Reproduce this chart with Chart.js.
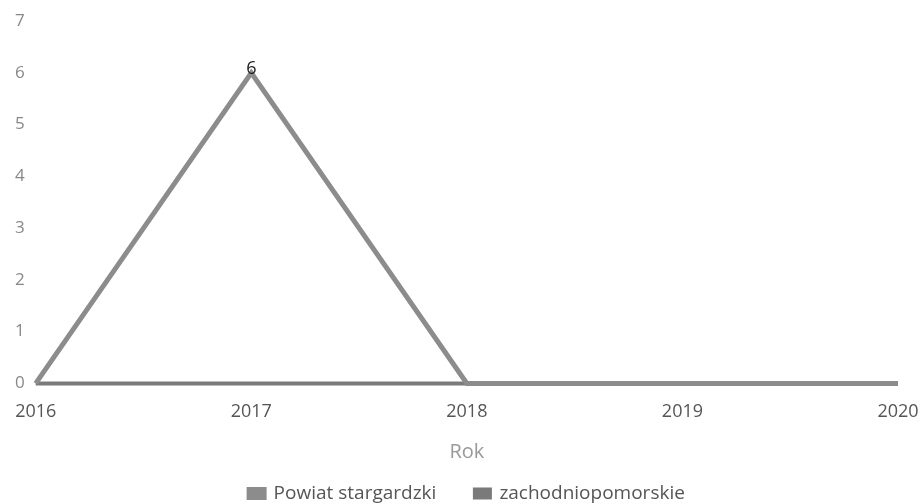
<!DOCTYPE html>
<html>
<head>
<meta charset="utf-8">
<script src="https://cdn.jsdelivr.net/npm/chart.js@4/dist/chart.umd.min.js"></script>
<style>
  html, body { margin: 0; padding: 0; background: #fff; }
  #wrap { width: 922px; height: 504px; }
</style>
</head>
<body>
<div id="wrap"><canvas id="chart" width="922" height="504"></canvas></div>
<script>
const years = ['2016', '2017', '2018', '2019', '2020'];
const powiatValues = [0, 6, 0, 0, 0];
const wojValues = [0, 0, 0, 0, 0];
const yTicks = [0, 1, 2, 3, 4, 5, 6, 7];

const FONT = '"Open Sans", sans-serif';

// value labels above non-zero points
const valueLabels = {
    id: 'valueLabels',
    afterDatasetsDraw(chart) {
        const ctx = chart.ctx;
        const meta = chart.getDatasetMeta(0);
        ctx.save();
        ctx.font = '18px ' + FONT;
        ctx.fillStyle = '#222';
        ctx.textAlign = 'center';
        ctx.textBaseline = 'bottom';
        meta.data.forEach((pt, i) => {
            const v = powiatValues[i];
            if (v) ctx.fillText(String(v), pt.x, pt.y + 5);
        });
        ctx.restore();
    }
};

new Chart(document.getElementById('chart'), {
    type: 'line',
    data: {
        labels: years,
        datasets: [{
            label: 'Powiat stargardzki',
            data: powiatValues,
            borderColor: '#8c8c8c',
            backgroundColor: '#8c8c8c',
            borderWidth: 5,
            pointRadius: 0,
            tension: 0,
            clip: false
        }, {
            label: 'zachodniopomorskie',
            data: wojValues,
            borderColor: '#7a7a7a',
            backgroundColor: '#7a7a7a',
            borderWidth: 4,
            pointRadius: 0,
            tension: 0,
            clip: false
        }]
    },
    options: {
        responsive: false,
        animation: false,
        layout: { padding: { left: 12, right: 0, top: 21, bottom: -9 } },
        plugins: {
            legend: {
                position: 'bottom',
                labels: {
                    boxWidth: 15,
                    boxHeight: 8,
                    padding: 4,
                    color: '#555',
                    font: { family: FONT, size: 19 },
                    generateLabels(chart) {
                        const items = Chart.defaults.plugins.legend.labels.generateLabels(chart);
                        items[0].text += '\u00a0\u00a0\u00a0\u00a0\u00a0\u00a0\u00a0';
                        return items;
                    }
                }
            },
            tooltip: { enabled: false }
        },
        scales: {
            x: {
                offset: false,
                grid: { display: false },
                border: { display: false },
                afterFit(scale) {
                    scale.paddingLeft = 0;
                    scale.paddingRight = 24;
                },
                ticks: {
                    color: '#555',
                    padding: 10,
                    maxRotation: 0,
                    font: { family: FONT, size: 18 }
                },
                title: {
                    display: true,
                    text: 'Rok',
                    color: '#999',
                    padding: { top: 7, bottom: 16 },
                    font: { family: FONT, size: 20 }
                }
            },
            y: {
                min: yTicks[0],
                max: yTicks[yTicks.length - 1],
                grid: { display: false },
                border: { display: false },
                afterBuildTicks(axis) {
                    axis.ticks = yTicks.map(v => ({ value: v }));
                },
                ticks: {
                    color: '#888',
                    padding: 3,
                    font: { family: FONT, size: 17 }
                }
            }
        }
    },
    plugins: [valueLabels]
});
</script>
</body>
</html>
